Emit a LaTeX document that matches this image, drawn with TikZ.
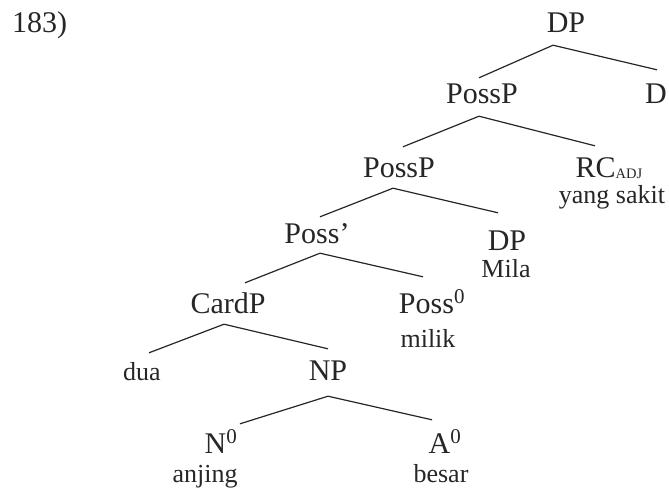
\documentclass[tikz,border=0pt]{standalone}
\usepackage{fontspec}
\setmainfont{Liberation Serif}
\usetikzlibrary{positioning}

\begin{document}
\begin{tikzpicture}[x=1pt,y=-1pt,
  cat/.style={anchor=base,inner sep=0pt,text height=20pt,text depth=0pt,font=\fontsize{30}{32}\selectfont,text=black!85},
  word/.style={anchor=base,inner sep=0pt,text height=18pt,text depth=0pt,font=\fontsize{26}{28}\selectfont,text=black!85},
  branch/.style={draw=black!85,line width=1.2pt}]
\useasboundingbox (0,0) rectangle (669,493);
% example number
\node[cat,anchor=base west] (num) at (12,32) {183)};
% categories
\node[cat] (dp) at (566,32) {DP};
\node[cat] (possp) at (482,103) {PossP};
\node[cat] (d) at (656,103) {D};
\node[cat] (possq) at (399,177) {PossP};
\node[cat] (rc) at (609,177) {RC{\fontsize{14.5}{15}\selectfont\raisebox{-1pt}{ADJ}}};
\node[cat] (possbar) at (317,243) {Poss'};
\node[cat] (dpm) at (507,250) {DP};
\node[cat] (cardp) at (228,313) {CardP};
\node[cat] (poss) at (432,313) {Poss\textsuperscript{0}};
\node[cat] (np) at (328,380) {NP};
\node[cat] (n) at (221,453) {N\textsuperscript{0}};
\node[cat] (a) at (445,453) {A\textsuperscript{0}};
% words
\node[word] (sakit) at (612,203) {yang sakit};
\node[word] (mila) at (506,277) {Mila};
\node[word] (milik) at (428,347) {milik};
\node[word] (dua) at (142,380) {dua};
\node[word] (anjing) at (205,482) {anjing};
\node[word] (besar) at (441,482) {besar};
% branches
\draw[branch] ([xshift=-3pt,yshift=5pt]possp.north) -- ([xshift=-13pt,yshift=-13pt]dp.south) -- ([xshift=1pt,yshift=13pt]d.north);
\draw[branch] ([xshift=4pt,yshift=10pt]possq.north) -- ([xshift=-3pt,yshift=-13pt]possp.south) -- ([xshift=-14pt,yshift=11pt]rc.north);
\draw[branch] ([xshift=3pt,yshift=6pt]possbar.north) -- ([xshift=-6pt,yshift=-11pt]possq.south) -- ([xshift=-9pt,yshift=17pt]dpm.north);
\draw[branch] ([xshift=17pt,yshift=10pt]cardp.north) -- ([xshift=3pt,yshift=-10pt]possbar.south) -- ([xshift=-9pt,yshift=16pt]poss.north);
\draw[branch] ([xshift=7pt,yshift=9pt]dua.north) -- ([xshift=-4pt,yshift=-11pt]cardp.south) -- ([yshift=11pt]np.north);
\draw[branch] ([xshift=19pt,yshift=9pt]n.north) -- ([yshift=-16pt]np.south) -- ([xshift=-13pt,yshift=13pt]a.north);
\end{tikzpicture}
\end{document}
